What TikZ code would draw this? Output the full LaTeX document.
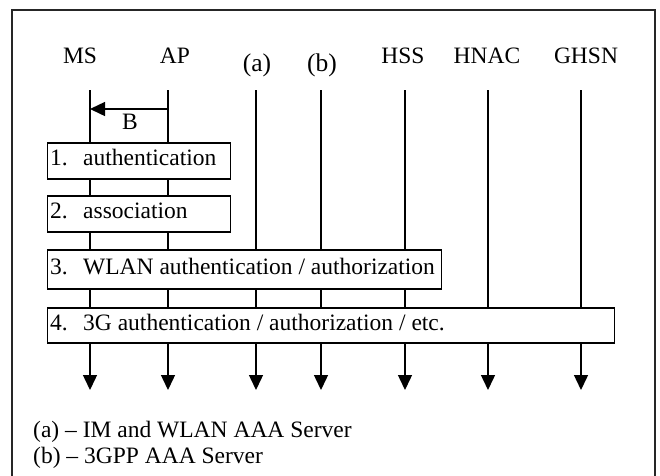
\documentclass[tikz,border=0pt]{standalone}
\usepackage{fontspec}
\setmainfont{Liberation Serif}
\usetikzlibrary{arrows.meta}
\tikzset{
  every node/.style={font=\fontsize{23.5}{28}\selectfont, inner sep=0pt},
  head/.style={anchor=base},
  headbig/.style={anchor=base, font=\fontsize{25.5}{30}\selectfont},
  life/.style={line width=1.4pt, -{Triangle[length=15pt,width=14pt]}},
  msg/.style={line width=1.4pt, -{Triangle[length=15pt,width=14pt]}},
  stepbox/.style={draw, line width=1.4pt, fill=white, anchor=west},
  steptext/.style={anchor=base west},
  frame/.style={line width=1.5pt, draw=black!85},
  note/.style={anchor=base west}
}
\newcommand{\stepno}[1]{\makebox[33pt][l]{#1}}
\begin{document}
\begin{tikzpicture}[x=1pt,y=-1pt]
\useasboundingbox (0,0) rectangle (660,475);

% outer frame (open at the bottom edge of the page)
\draw[frame] (12,490) -- (12,10) -- (655,10) -- (655,490);

% entity names
\node[head] (ms)   at (80,63)  {MS};
\node[head] (ap)   at (175,63) {AP};
\node[headbig] (aaa)  at (257,71) {(a)};
\node[headbig] (gpp)  at (322,71) {(b)};
\node[head] (hss)  at (403,63) {HSS};
\node[head] (hnac) at (487,63) {HNAC};
\node[head] (ghsn) at (586,63) {GHSN};

% lifeline ends
\foreach \n/\x in {ms/90, ap/168, aaa/256, gpp/321, hss/405, hnac/488, ghsn/581}{
  \coordinate (\n-top) at (\x,90);
  \coordinate (\n-end) at (\x,390);
}
\foreach \n in {ms, ap, aaa, gpp, hss, hnac, ghsn}{
  \draw[life] (\n-top) -- (\n-end);
}

% beacon from AP to MS
\coordinate (ap-b) at (168,109);
\coordinate (ms-b) at (90,109);
\draw[msg] (ap-b) -- (ms-b);
\node[anchor=base] (beacon) at (130,129) {B};

% procedure steps: white boxes over the lifelines, then their captions
\node[stepbox, minimum width=183pt, minimum height=36pt] (s1) at (47,161) {};
\node[stepbox, minimum width=183pt, minimum height=36pt] (s2) at (47,214) {};
\node[stepbox, minimum width=394pt, minimum height=39pt] (s3) at (47,269.5) {};
\node[stepbox, minimum width=567pt, minimum height=35pt] (s4) at (47,325.5) {};

\node[steptext] (t1) at ([shift={(3,4.5)}]s1.west) {\stepno{1.}authentication};
\node[steptext] (t2) at ([shift={(3,4.5)}]s2.west) {\stepno{2.}association};
\node[steptext] (t3) at ([shift={(3,4.5)}]s3.west) {\stepno{3.}WLAN authentication / authorization};
\node[steptext] (t4) at ([shift={(3,4.5)}]s4.west) {\stepno{4.}3G authentication / authorization / etc.};

% legend
\node[note] (la) at (33,437) {(a) -- IM and WLAN AAA Server};
\node[note] (lb) at (33,463) {(b) -- 3GPP AAA Server};
\end{tikzpicture}
\end{document}
